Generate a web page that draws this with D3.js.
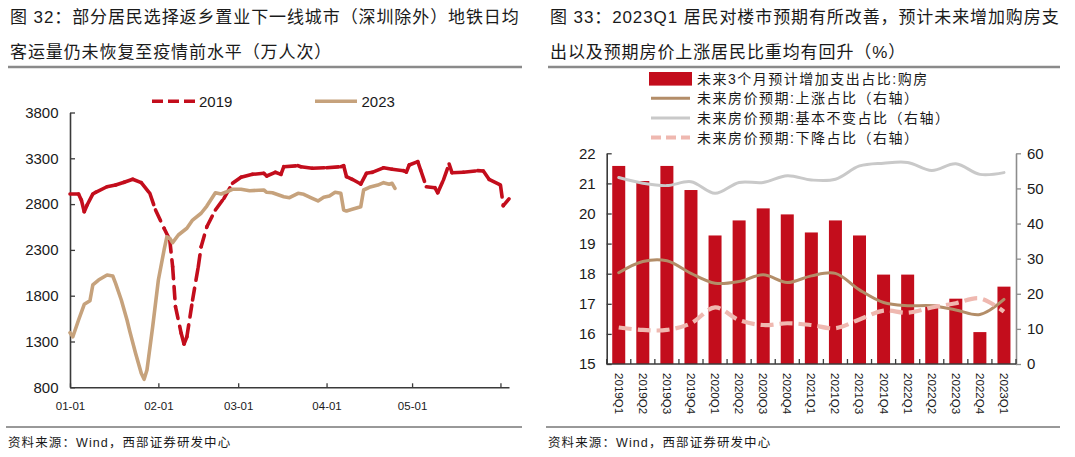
<!DOCTYPE html>
<html><head><meta charset="utf-8">
<script src="https://cdn.jsdelivr.net/npm/d3@7"></script>
<style>
body{margin:0;background:#fff}
svg{display:block}
text{font-family:"Liberation Sans","Noto Sans CJK SC",sans-serif;fill:#1a1a1a}
</style>
</head><body>
<svg id="c" width="1075" height="457"></svg>
<script>
// ---------- Left chart data (day index from 01-01, 万人次) ----------
const days2019 = [0,3,4,5,6,8,9,13,16,19,22,25,28,30,33,35,36,37,39,40,41,43,45,46,48,51,54,57,60,64,68,69,72,74,75,80,81,85,90,95,96,97,99,102,104,106,110,113,117,118,119,122,123,125,128,129,131,133,134,138,143,145,147,151,152,154];
const vals2019 = [2910,2910,2843,2717,2790,2910,2929,2990,3008,3038,3071,3034,2918,2736,2536,2408,2117,1680,1390,1273,1352,1753,2117,2335,2553,2736,2863,3027,3093,3125,3136,3107,3147,3125,3208,3219,3208,3191,3197,3208,3219,3099,3071,3019,3136,3147,3197,3180,3165,3150,3227,3263,3172,2990,2979,2924,3063,3238,3143,3147,3165,3161,3071,3008,2783,2858];
const days2023 = [0,1,3,5,7,8,10,13,15,16,18,20,21,23,25,26,27,29,31,33,34,35,36,38,41,43,46,48,51,53,55,57,60,63,68,69,71,75,77,80,82,85,87,89,91,93,95,96,97,99,102,103,105,108,110,112,113,114];
const vals2023 = [1396,1352,1535,1706,1745,1917,1971,2026,2015,1935,1753,1535,1407,1171,953,887,989,1462,1971,2299,2444,2426,2379,2463,2536,2626,2700,2779,2924,2910,2935,2962,2962,2946,2954,2929,2924,2881,2870,2918,2907,2863,2834,2874,2888,2929,2918,2736,2725,2743,2772,2954,2983,3008,3034,3016,3027,2972];
const leftYTicks = [800,1300,1800,2300,2800,3300,3800];
const leftXTickDays = [0,31,59,90,120,151];
const leftXTickLabels = ["01-01","02-01","03-01","04-01","05-01",""];
const leftSeriesNames = ["2019","2023"];

// ---------- Right chart data (%) ----------
const quarters = ["2019Q1","2019Q2","2019Q3","2019Q4","2020Q1","2020Q2","2020Q3","2020Q4","2021Q1","2021Q2","2021Q3","2021Q4","2022Q1","2022Q2","2022Q3","2022Q4","2023Q1"];
const buyHouse = [21.58,21.08,21.58,20.78,19.27,19.77,20.17,19.97,19.37,19.77,19.27,17.97,17.97,16.97,17.17,16.06,17.57];
const priceUp = [26.0,29.2,29.4,25.8,23.0,23.5,25.4,23.2,25.1,25.8,21.1,17.5,16.6,16.6,15.4,14.1,18.4];
const priceSame = [53.1,51.5,50.8,51.9,48.6,51.7,51.7,53.6,52.4,52.6,56.4,57.2,57.4,55.1,57.0,54.0,54.5];
const priceDown = [10.4,9.7,9.7,11.6,16.1,12.5,11.1,11.6,11.1,10.2,12.7,15.2,14.6,16.1,17.3,18.7,14.9];
const rightLeftTicks = [15,16,17,18,19,20,21,22];
const rightRightTicks = [0,10,20,30,40,50,60];
const rightLegend = ["未来3个月预计增加支出占比:购房","未来房价预期:上涨占比（右轴）","未来房价预期:基本不变占比（右轴）","未来房价预期:下降占比（右轴）"];

const titleL = ["图 32：部分居民选择返乡置业下一线城市（深圳除外）地铁日均","客运量仍未恢复至疫情前水平（万人次）"];
const titleR = ["图 33：2023Q1 居民对楼市预期有所改善，预计未来增加购房支","出以及预期房价上涨居民比重均有回升（%）"];
const source = "资料来源：Wind，西部证券研发中心";

const RED = "#c30d1c", TAN = "#c6a27c", BROWN = "#b38d68", GRAY = "#c9c9c9", PINK = "#efb8b0";

const svg = d3.select("#c");

// ---------- Frames: titles, rules, source ----------
function frame(x0, x1, title){
  title.forEach((t,i)=>svg.append("text").attr("x",x0+2).attr("y",23+i*34.5)
    .attr("font-size",17).attr("letter-spacing",0.9).text(t));
  svg.append("line").attr("x1",x0).attr("x2",x1).attr("y1",67).attr("y2",67)
    .attr("stroke","#8a8a8a").attr("stroke-width",2.5);
  svg.append("line").attr("x1",x0-2).attr("x2",x1).attr("y1",427).attr("y2",427)
    .attr("stroke","#333").attr("stroke-width",1);
  svg.append("text").attr("x",x0).attr("y",447).attr("font-size",12.5)
    .attr("letter-spacing",1.1).text(source);
}
frame(8,522,titleL);
frame(548,1060,titleR);

// ---------- Left chart ----------
const xL = d3.scaleLinear().domain([0,154]).range([70,509]);
const yL = d3.scaleLinear().domain([800,3800]).range([387.3,112.5]);

const gLa = svg.append("g");
const axL = gLa.append("g").attr("transform",`translate(${xL.range()[0]},0)`)
  .call(d3.axisLeft(yL).tickValues(leftYTicks).tickSizeInner(-5).tickSizeOuter(0).tickPadding(11.5).tickFormat(d3.format("d")));
const axB = gLa.append("g").attr("transform",`translate(0,${yL.range()[0]})`)
  .call(d3.axisBottom(xL).tickValues(leftXTickDays).tickSizeInner(-4).tickSizeOuter(0).tickPadding(15)
    .tickFormat((d,i)=>leftXTickLabels[i]));
[axL,axB].forEach(a=>{
  a.select(".domain").attr("stroke","#3a3a3a").attr("stroke-width",1.6);
  a.selectAll(".tick line").attr("stroke","#3a3a3a").attr("stroke-width",1.3);
  a.selectAll("text").attr("fill","#1a1a1a").attr("font-family","Liberation Sans");
});
axL.selectAll("text").attr("font-size",15);
axB.selectAll("text").attr("font-size",11.5);

// 2019: dashed per segment (Excel-like look: solid where points are dense)
const p19 = days2019.map((d,i)=>[xL(d), yL(vals2019[i])]);
const segLine = d3.line();
for(let i=0;i<p19.length-1;i++){
  svg.append("path").attr("d",segLine([p19[i],p19[i+1]])).attr("fill","none")
    .attr("stroke",RED).attr("stroke-width",3.6).attr("stroke-linecap","round")
    .attr("stroke-dasharray","12,8");
}
// 2023
svg.append("path").datum(days2023.map((d,i)=>[xL(d), yL(vals2023[i])]))
  .attr("d",d3.line()).attr("fill","none").attr("stroke",TAN)
  .attr("stroke-width",3.6).attr("stroke-linejoin","round").attr("stroke-linecap","round");

// Left legend
svg.append("line").attr("x1",152).attr("x2",195).attr("y1",101.3).attr("y2",101.3)
  .attr("stroke",RED).attr("stroke-width",3.6).attr("stroke-dasharray","11,5");
svg.append("text").attr("x",199).attr("y",106.6).attr("font-size",15).text(leftSeriesNames[0]);
svg.append("line").attr("x1",315).attr("x2",357).attr("y1",101.3).attr("y2",101.3)
  .attr("stroke",TAN).attr("stroke-width",3.6);
svg.append("text").attr("x",361.5).attr("y",106.6).attr("font-size",15).text(leftSeriesNames[1]);

// ---------- Right chart ----------
const xR = d3.scaleBand().domain(quarters).range([606.7,1016]).paddingInner(0.46).paddingOuter(0.23);
const yRL = d3.scaleLinear().domain([15,22]).range([364,153.3]);
const yRR = d3.scaleLinear().domain([0,60]).range([364,153.3]);

svg.append("g").selectAll("rect").data(quarters).join("rect")
  .attr("x",d=>xR(d)).attr("width",xR.bandwidth())
  .attr("y",(d,i)=>yRL(buyHouse[i])).attr("height",(d,i)=>yRL(15)-yRL(buyHouse[i]))
  .attr("fill",RED);

const axRL = svg.append("g").attr("transform",`translate(${xR.range()[0]},0)`)
  .call(d3.axisLeft(yRL).tickValues(rightLeftTicks).tickSizeInner(-5).tickSizeOuter(0).tickPadding(11).tickFormat(d3.format("d")));
const axRR = svg.append("g").attr("transform",`translate(${xR.range()[1]},0)`)
  .call(d3.axisRight(yRR).tickValues(rightRightTicks).tickSizeInner(5).tickSizeOuter(0).tickPadding(6).tickFormat(d3.format("d")));
axRL.select(".domain").attr("stroke","#3a3a3a").attr("stroke-width",1.6);
axRL.selectAll(".tick line").attr("stroke","#3a3a3a").attr("stroke-width",1.3);
axRR.select(".domain").attr("stroke","#8c8c8c").attr("stroke-width",1.6);
axRR.selectAll(".tick line").attr("stroke","#8c8c8c").attr("stroke-width",1.3);
[axRL,axRR].forEach(a=>a.selectAll("text").attr("font-size",15).attr("fill","#1a1a1a").attr("font-family","Liberation Sans"));

// x axis line and category ticks
const step = xR.step();
svg.append("line").attr("x1",xR.range()[0]).attr("x2",xR.range()[1]).attr("y1",yRL(15)).attr("y2",yRL(15))
  .attr("stroke","#3a3a3a").attr("stroke-width",1.6);
svg.append("g").selectAll("line").data(d3.range(quarters.length+1)).join("line")
  .attr("x1",i=>xR.range()[0]+i*step).attr("x2",i=>xR.range()[0]+i*step)
  .attr("y1",yRL(15)).attr("y2",yRL(15)-5).attr("stroke","#3a3a3a").attr("stroke-width",1.3);
svg.append("g").selectAll("text").data(quarters).join("text")
  .attr("transform",d=>`translate(${xR(d)+xR.bandwidth()/2},373) rotate(90)`)
  .attr("dy","0.35em").attr("font-size",11.6).attr("font-family","Liberation Sans").text(d=>d);

const cx = d=>xR(d)+xR.bandwidth()/2;
const smooth = d3.line().curve(d3.curveCatmullRom.alpha(0.5));
function series(vals,color,w,dash){
  svg.append("path").attr("d",smooth(quarters.map((q,i)=>[cx(q),yRR(vals[i])])))
    .attr("fill","none").attr("stroke",color).attr("stroke-width",w)
    .attr("stroke-dasharray",dash||null).attr("stroke-linecap",dash?"butt":"round");
}
series(priceUp,BROWN,3);
series(priceSame,GRAY,3);
series(priceDown,PINK,4.2,"13,6");

// Right legend
const lgY = [78.8,98.2,118,137.5];
svg.append("rect").attr("x",649).attr("y",72).attr("width",43).attr("height",13.6).attr("fill",RED);
svg.append("line").attr("x1",651).attr("x2",690).attr("y1",lgY[1]).attr("y2",lgY[1]).attr("stroke",BROWN).attr("stroke-width",3);
svg.append("line").attr("x1",651).attr("x2",690).attr("y1",lgY[2]).attr("y2",lgY[2]).attr("stroke",GRAY).attr("stroke-width",3);
svg.append("line").attr("x1",651).attr("x2",690).attr("y1",lgY[3]).attr("y2",lgY[3]).attr("stroke",PINK).attr("stroke-width",4.2).attr("stroke-dasharray","10,5");
rightLegend.forEach((t,i)=>svg.append("text").attr("x",697).attr("y",lgY[i]+5.2)
  .attr("font-size",14).attr("letter-spacing",1.5).text(t));
</script>
</body></html>
